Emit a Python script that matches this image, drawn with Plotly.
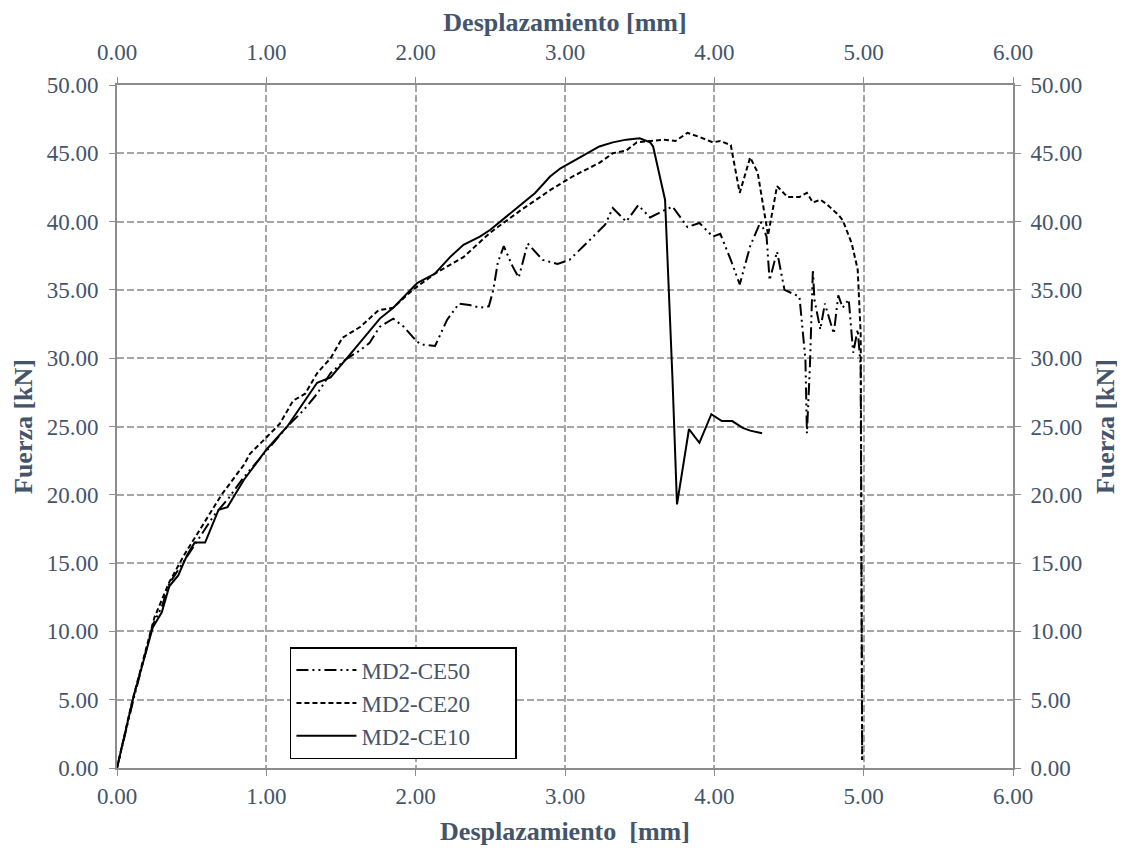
import plotly.graph_objects as go

# MD2-CE50 (dash-dot-dot)
d_ce50 = [0, 0.11, 0.24, 0.30, 0.35, 0.41, 0.47, 0.55, 0.65, 0.75, 0.85, 1.0, 1.14, 1.25, 1.34, 1.43,
          1.53, 1.63, 1.69, 1.76, 1.85, 1.92, 2.01, 2.04, 2.13, 2.21, 2.29, 2.36, 2.43, 2.49, 2.52,
          2.55, 2.59, 2.65, 2.69, 2.75, 2.85, 2.95, 3.03, 3.17, 3.27, 3.32, 3.41, 3.49, 3.57, 3.66,
          3.72, 3.82, 3.90, 3.99, 4.04, 4.11, 4.17, 4.24, 4.31, 4.35, 4.37, 4.42, 4.47, 4.57, 4.59,
          4.61, 4.62, 4.64, 4.66, 4.67, 4.71, 4.74, 4.80, 4.83, 4.86, 4.90, 4.93, 4.96, 4.98, 4.99]
f_ce50 = [0, 5.0, 10.5, 11.8, 13.5, 14.5, 15.5, 16.8, 18.5, 19.8, 21.3, 23.2, 25.0, 26.2, 27.4, 28.9,
          29.9, 30.6, 31.1, 32.3, 32.9, 32.3, 31.2, 31.0, 30.9, 32.8, 34.0, 33.9, 33.7, 33.8, 35.0,
          37.0, 38.2, 36.7, 35.9, 38.4, 37.2, 36.9, 37.2, 38.7, 39.8, 41.0, 40.0, 41.2, 40.3, 40.8,
          41.1, 39.6, 39.9, 38.9, 39.1, 37.2, 35.4, 38.2, 40.0, 38.9, 35.7, 37.8, 35.0, 34.5, 32.3,
          29.9, 24.5, 29.4, 36.5, 34.3, 32.1, 34.0, 31.8, 34.6, 33.7, 34.3, 30.4, 32.1, 29.4, 0.6]

# MD2-CE20 (dashed)
d_ce20 = [0, 0.1, 0.25, 0.35, 0.45, 0.6, 0.7, 0.85, 0.89, 1.0, 1.09, 1.18, 1.26, 1.34, 1.43, 1.51,
          1.63, 1.75, 1.85, 1.98, 2.13, 2.32, 2.50, 2.70, 2.90, 3.05, 3.23, 3.32, 3.41, 3.48, 3.57,
          3.66, 3.74, 3.82, 3.90, 3.99, 4.04, 4.11, 4.17, 4.24, 4.29, 4.36, 4.42, 4.49, 4.57, 4.62,
          4.66, 4.71, 4.75, 4.83, 4.86, 4.92, 4.96, 4.98, 4.99]
f_ce20 = [0, 4.8, 11.0, 13.6, 15.6, 18.2, 20.0, 22.2, 23.0, 24.2, 25.2, 26.9, 27.4, 28.9, 30.0, 31.5,
          32.3, 33.5, 33.7, 35.0, 36.2, 37.4, 39.2, 40.8, 42.3, 43.3, 44.3, 45.0, 45.2, 45.8, 45.9,
          46.0, 45.9, 46.5, 46.2, 45.8, 45.9, 45.6, 42.1, 44.7, 43.6, 39.0, 42.6, 41.8, 41.8, 42.1,
          41.4, 41.6, 41.3, 40.5, 40.1, 38.4, 36.5, 31.8, 0.6]

# MD2-CE10 (solid)
d_ce10 = [0, 0.11, 0.24, 0.30, 0.35, 0.41, 0.47, 0.52, 0.59, 0.68, 0.74, 0.85, 1.0, 1.14, 1.34, 1.43,
          1.54, 1.76, 1.85, 2.01, 2.13, 2.23, 2.32, 2.43, 2.50, 2.60, 2.70, 2.80, 2.90, 2.97, 3.10,
          3.23, 3.32, 3.41, 3.50, 3.57, 3.59, 3.67, 3.72, 3.75, 3.83, 3.90, 3.98, 4.05, 4.12, 4.19,
          4.24, 4.32]
f_ce10 = [0, 5.2, 10.3, 11.4, 13.3, 14.1, 15.6, 16.5, 16.5, 18.9, 19.1, 21.1, 23.3, 25.0, 28.2, 28.6,
          30.0, 32.9, 33.7, 35.5, 36.2, 37.4, 38.3, 38.9, 39.4, 40.3, 41.2, 42.1, 43.3, 43.9, 44.7,
          45.5, 45.8, 46.0, 46.1, 45.8, 45.5, 41.6, 28.4, 19.3, 24.8, 23.8, 25.9, 25.4, 25.4, 24.9,
          24.7, 24.5]

series_names = ["MD2-CE50", "MD2-CE20", "MD2-CE10"]
x_ticks = [0, 1, 2, 3, 4, 5, 6]
y_ticks = [0, 5, 10, 15, 20, 25, 30, 35, 40, 45, 50]

TXT = "#44546A"
GRID = "#A6A6A6"
AX = "#8C8C8C"
FONT = "Liberation Serif, Times New Roman, serif"
PAD = "&nbsp;" * 7

fig = go.Figure()
fig.add_trace(go.Scatter(x=d_ce50, y=f_ce50, mode="lines", name=series_names[0] + PAD,
                         line=dict(color="black", width=2, dash="12px,4px,2px,4px,2px,4px")))
fig.add_trace(go.Scatter(x=d_ce20, y=f_ce20, mode="lines", name=series_names[1] + PAD,
                         line=dict(color="black", width=2, dash="5px,3px")))
fig.add_trace(go.Scatter(x=d_ce10, y=f_ce10, mode="lines", name=series_names[2] + PAD,
                         line=dict(color="black", width=2)))
# dummy trace to anchor secondary axes
fig.add_trace(go.Scatter(x=[0], y=[0], xaxis="x2", yaxis="y2", mode="markers",
                         marker=dict(opacity=0), showlegend=False, hoverinfo="skip"))

axis_common = dict(
    showline=True, linecolor=AX, linewidth=2,
    ticks="outside", ticklen=6, tickcolor=AX, tickwidth=1,
    tickfont=dict(family=FONT, size=23, color=TXT),
    tickformat=".2f", zeroline=False, automargin=False,
)
title_font = dict(family=FONT, size=26, color=TXT)

fig.update_layout(
    width=1125, height=848,
    margin=dict(l=109, r=120, t=77, b=88),
    paper_bgcolor="white", plot_bgcolor="white",
    font=dict(family=FONT, color=TXT),
    xaxis=dict(range=[0, 6], tickvals=x_ticks, showgrid=True, gridcolor=GRID, gridwidth=1.5,
               griddash="7px,3px",
               title=dict(text="<b>Desplazamiento  [mm]</b>", font=title_font, standoff=14),
               **axis_common),
    xaxis2=dict(range=[0, 6], tickvals=x_ticks, overlaying="x", side="top", showgrid=False,
                anchor="y", ticklabelstandoff=8,
                title=dict(text="<b>Desplazamiento [mm]</b>", font=title_font, standoff=5),
                **axis_common),
    yaxis=dict(range=[0, 50], tickvals=y_ticks, showgrid=True, gridcolor=GRID, gridwidth=1.5,
               griddash="7px,3px", ticklabelstandoff=6,
               title=dict(text="<b>Fuerza [kN]</b>", font=title_font, standoff=7),
               **axis_common),
    yaxis2=dict(range=[0, 50], tickvals=y_ticks, overlaying="y", side="right", showgrid=False,
                anchor="x", ticklabelstandoff=5,
                title=dict(text="<b>Fuerza [kN]</b>", font=title_font, standoff=14),
                **axis_common),
    legend=dict(x=0.193, y=0.177, xanchor="left", yanchor="top",
                bgcolor="white", bordercolor="black", borderwidth=1.5,
                font=dict(family=FONT, size=23, color=TXT),
                tracegroupgap=0, itemwidth=60),
    showlegend=True,
)

fig.write_html("out.html")
